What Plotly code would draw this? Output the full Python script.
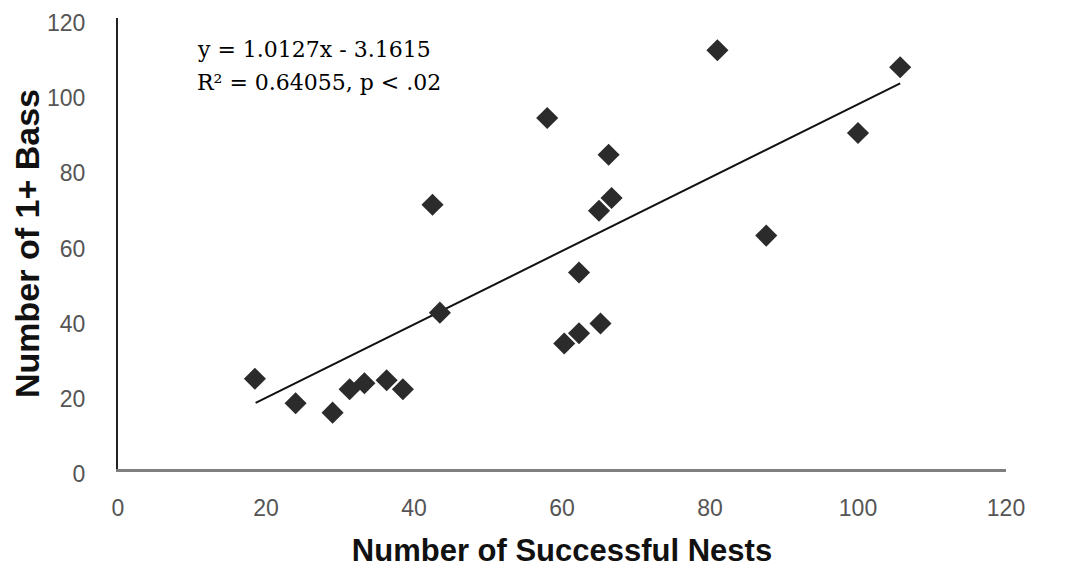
import plotly.graph_objects as go

# Data
nests = [18.5, 24, 29, 31.3, 33.3, 36.3, 38.5, 42.5, 43.5, 58, 60.3, 62.3, 62.3, 65.2, 65, 66.7, 66.3, 81, 87.6, 100, 105.7]
bass = [24, 17.5, 15, 21.2, 22.8, 23.6, 21.2, 70.3, 41.6, 93.4, 33.4, 36.1, 52.3, 38.7, 68.7, 72.1, 83.6, 111.4, 62.1, 89.4, 106.9]

trend_x = [18.6, 105.7]
trend_y = [17.6, 102.6]

x_ticks = [0, 20, 40, 60, 80, 100, 120]
y_ticks = [0, 20, 40, 60, 80, 100, 120]

eq_line1 = "y = 1.0127x - 3.1615"
eq_line2 = "R² = 0.64055, p < .02"

fig = go.Figure()
fig.add_trace(go.Scatter(
    x=trend_x, y=trend_y, mode="lines",
    line=dict(color="#111111", width=2), showlegend=False, hoverinfo="skip"))
fig.add_trace(go.Scatter(
    x=nests, y=bass, mode="markers",
    marker=dict(symbol="diamond", size=17, color="#2b2b2b", line=dict(width=0)),
    showlegend=False))

fig.add_annotation(x=10.4, y=111.6, xref="x", yref="y", text=eq_line1, showarrow=False,
                   xanchor="left", yanchor="middle",
                   font=dict(family="DejaVu Serif", size=22, color="#000000"))
fig.add_annotation(x=10.4, y=102.9, xref="x", yref="y", text=eq_line2, showarrow=False,
                   xanchor="left", yanchor="middle",
                   font=dict(family="DejaVu Serif", size=22, color="#000000"))

fig.update_layout(
    width=1069, height=573,
    margin=dict(l=110, r=71, t=10, b=112),
    plot_bgcolor="white", paper_bgcolor="white",
    font=dict(family="Liberation Sans, Arial, sans-serif"),
)
fig.update_xaxes(
    range=[0, 120], tickvals=x_ticks, ticktext=[str(v) for v in x_ticks],
    showgrid=False, zeroline=False, showline=True, linecolor="#7f7f7f", linewidth=3,
    ticks="", tickfont=dict(size=23, color="#555555"), ticklabelstandoff=16,
    ticklabeloverflow="allow", automargin=False,
    title=dict(text="<b>Number of Successful Nests</b>", font=dict(size=31, color="#111111"), standoff=20),
)
fig.update_yaxes(
    range=[0, 120], tickvals=y_ticks, ticktext=[str(v) for v in y_ticks],
    showgrid=False, zeroline=False, showline=True, linecolor="#222222", linewidth=2,
    ticks="", tickfont=dict(size=23, color="#555555"), ticklabelstandoff=26,
    ticklabelshift=5,
    ticklabeloverflow="allow", automargin=False,
    title=dict(text="<b>Number of 1+ Bass</b>", font=dict(size=34, color="#111111"), standoff=14),
)

fig.write_html("out.html")
